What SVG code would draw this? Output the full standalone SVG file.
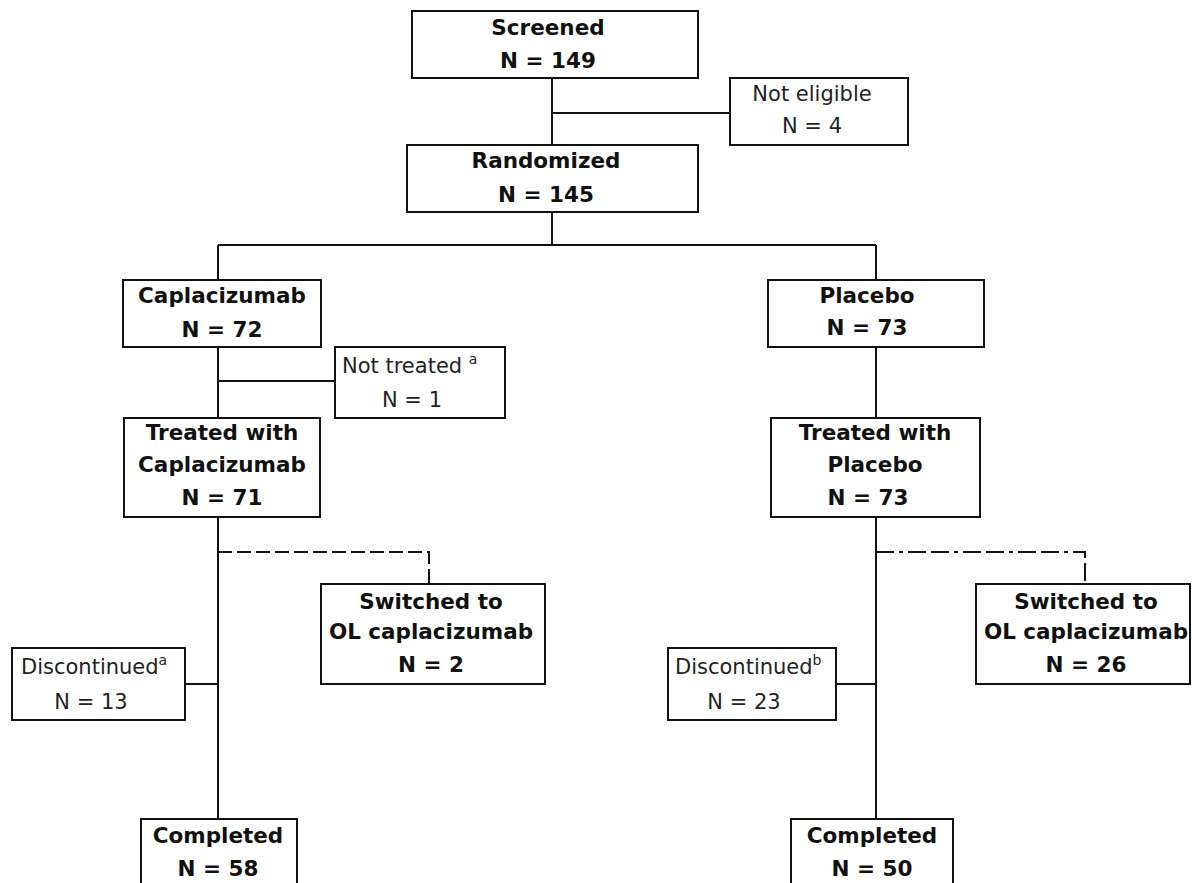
<svg xmlns="http://www.w3.org/2000/svg" width="1192" height="883" viewBox="0 0 1192 883">
<style>
.box{fill:#fff;stroke:#111;stroke-width:2}
.ln{fill:none;stroke:#111;stroke-width:2}
.dash{fill:none;stroke:#111;stroke-width:2;stroke-dasharray:14 5}
.dashdot{fill:none;stroke:#111;stroke-width:2;stroke-dasharray:18 5 4 5 18 5}
text{font-family:"DejaVu Sans",Verdana,sans-serif;font-size:21px;fill:#111;text-anchor:middle}
.b{font-weight:bold;font-size:21.5px}
.l{fill:#222}
.sup{font-size:14px}
</style>
<rect width="1192" height="883" fill="#fff"/>
<g id="connectors">
<path class="ln" d="M552 78V145M552 113H730M552 212V245M218 245H876M218 245V280M876 245V280"/>
<path class="ln" d="M218 347V418M218 381H335M876 347V418"/>
<path class="ln" d="M218 517V819M185 684H218M876 517V819M836 684H876"/>
<path class="dash" d="M218 552H429V584"/>
<path class="dashdot" d="M876 552H1085V584"/>
</g>
<g id="screened"><rect class="box" x="412" y="11" width="286" height="67"/><text class="b" x="548" y="35">Screened</text><text class="b" x="548" y="68">N = 149</text></g>
<g id="not-eligible"><rect class="box" x="730" y="78" width="178" height="67"/><text class="l" x="812" y="101">Not eligible</text><text class="l" x="812" y="133">N = 4</text></g>
<g id="randomized"><rect class="box" x="407" y="145" width="291" height="67"/><text class="b" x="546" y="168">Randomized</text><text class="b" x="546" y="202">N = 145</text></g>
<g id="caplacizumab"><rect class="box" x="123" y="280" width="198" height="67"/><text class="b" x="222" y="303">Caplacizumab</text><text class="b" x="222" y="337">N = 72</text></g>
<g id="not-treated"><rect class="box" x="335" y="347" width="170" height="71"/><text class="l" x="342" y="373" style="text-anchor:start">Not treated <tspan class="sup" dy="-9">a</tspan></text><text class="l" x="412" y="407">N = 1</text></g>
<g id="placebo"><rect class="box" x="768" y="280" width="216" height="67"/><text class="b" x="867" y="303">Placebo</text><text class="b" x="867" y="335">N = 73</text></g>
<g id="treated-capla"><rect class="box" x="124" y="418" width="196" height="99"/><text class="b" x="222" y="440">Treated with</text><text class="b" x="222" y="472">Caplacizumab</text><text class="b" x="222" y="505">N = 71</text></g>
<g id="treated-placebo"><rect class="box" x="771" y="418" width="209" height="99"/><text class="b" x="875" y="440">Treated with</text><text class="b" x="875" y="472">Placebo</text><text class="b" x="868" y="505">N = 73</text></g>
<g id="switched-left"><rect class="box" x="321" y="584" width="224" height="100"/><text class="b" x="431" y="609">Switched to</text><text class="b" x="431" y="639">OL caplacizumab</text><text class="b" x="431" y="672">N = 2</text></g>
<g id="disc-left"><rect class="box" x="12" y="648" width="173" height="72"/><text class="l" x="21" y="674" style="text-anchor:start">Discontinued<tspan class="sup" dy="-9">a</tspan></text><text class="l" x="91" y="709">N = 13</text></g>
<g id="switched-right"><rect class="box" x="976" y="584" width="214" height="100"/><text class="b" x="1086" y="609">Switched to</text><text class="b" x="1086" y="639">OL caplacizumab</text><text class="b" x="1086" y="672">N = 26</text></g>
<g id="disc-right"><rect class="box" x="668" y="648" width="168" height="72"/><text class="l" x="675" y="674" style="text-anchor:start">Discontinued<tspan class="sup" dy="-9">b</tspan></text><text class="l" x="744" y="709">N = 23</text></g>
<g id="completed-left"><rect class="box" x="141" y="819" width="156" height="80"/><text class="b" x="218" y="843">Completed</text><text class="b" x="218" y="876">N = 58</text></g>
<g id="completed-right"><rect class="box" x="791" y="819" width="162" height="80"/><text class="b" x="872" y="843">Completed</text><text class="b" x="872" y="876">N = 50</text></g>
</svg>
